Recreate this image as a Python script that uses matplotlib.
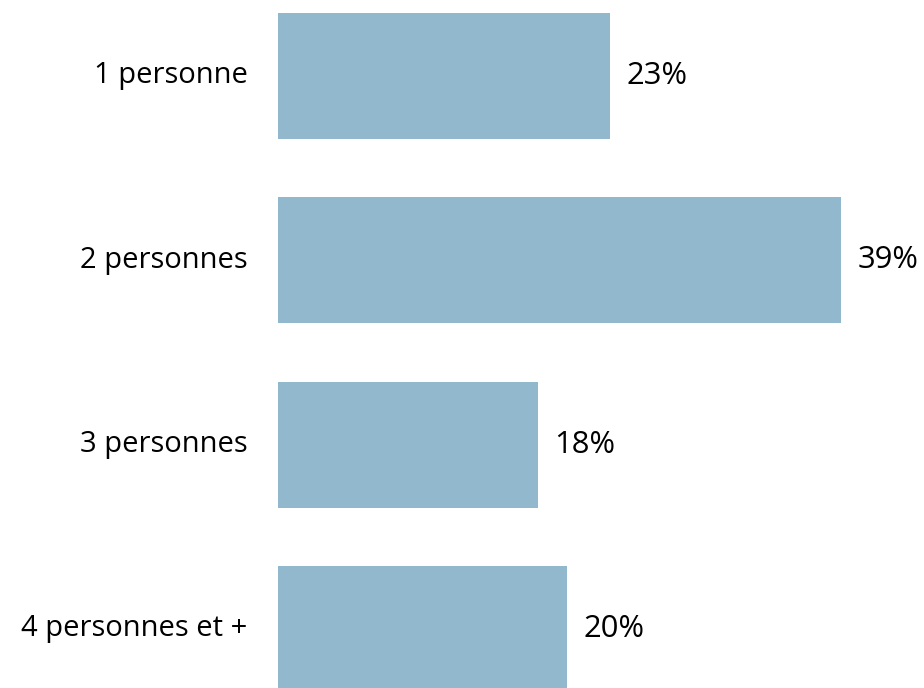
import matplotlib
matplotlib.use("Agg")
import matplotlib.pyplot as plt

categories = ["1 personne", "2 personnes", "3 personnes", "4 personnes et +"]
values = [23, 39, 18, 20]
value_labels = ["23%", "39%", "18%", "20%"]

plt.rcParams['font.family'] = ['Open Sans', 'DejaVu Sans']

W, H = 924, 688
fig = plt.figure(figsize=(W / 100, H / 100), dpi=100)
left_px = 278
px_per_unit = 14.43
xmax = 44
ax = fig.add_axes([left_px / W, 0, xmax * px_per_unit / W, 1])

ypos = list(range(len(categories)))
ax.barh(ypos, values, height=0.684, color="#92B8CE", edgecolor="none")
ax.set_xlim(0, xmax)
ax.set_ylim(-0.412 + H / 184.3, -0.412)

for y, v, lab in zip(ypos, values, value_labels):
    ax.annotate(lab, xy=(v, y), xytext=(12, 0), textcoords="offset points",
                ha="left", va="center", fontsize=22.3, color="black")
for y, cat in zip(ypos, categories):
    ax.annotate(cat, xy=(0, y), xytext=(-22, 0), textcoords="offset points",
                ha="right", va="center", fontsize=21, color="black")

ax.axis("off")
fig.savefig("out.png", dpi=100)
